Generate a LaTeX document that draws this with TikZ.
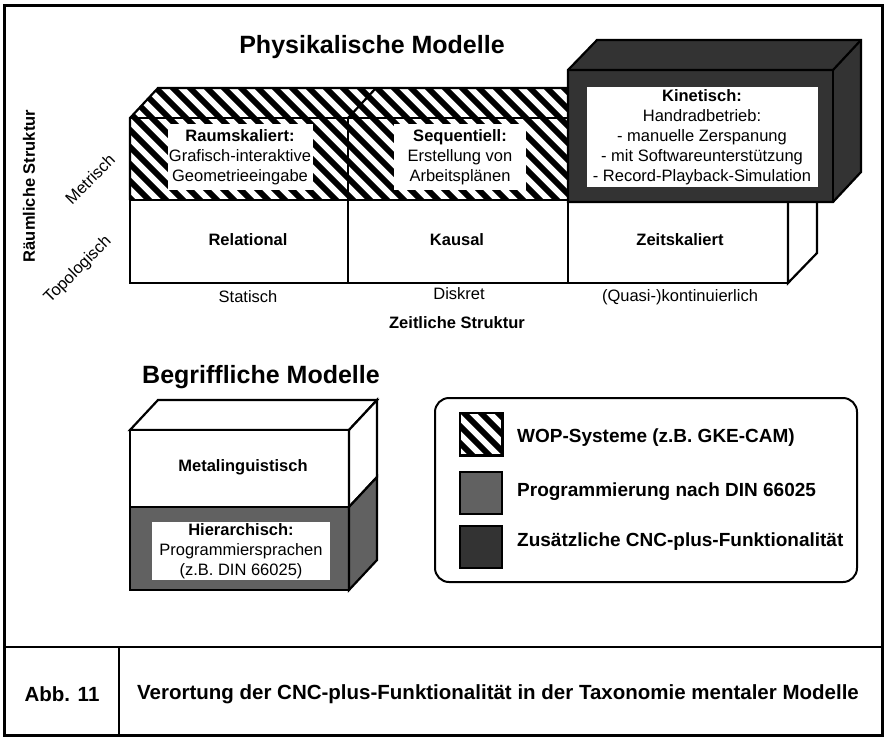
\documentclass[tikz,border=0pt]{standalone}
\usepackage{fontspec}
\setmainfont{Liberation Sans}
\newcommand{\myhatch}[1]{%
  \begin{scope}
    \clip #1;
    \foreach \k in {-12,...,45} \draw[hatchline] (\k*17,0) -- ++(900,900);
  \end{scope}}
\begin{document}
\begin{tikzpicture}[x=1pt,y=-1pt,
  edge/.style={line width=2.2pt, line join=miter},
  hatchline/.style={line width=6pt},
  txt/.style={font=\fontsize{16.5}{20}\selectfont, align=center, inner sep=0pt},
  txtb/.style={font=\fontsize{16.5}{20}\selectfont\bfseries, align=center, inner sep=0pt},
  titlefont/.style={font=\fontsize{25}{30}\selectfont\bfseries, inner sep=0pt},
  legtxt/.style={font=\fontsize{19}{22}\selectfont\bfseries, anchor=west, inner sep=0pt},
  capt/.style={font=\fontsize{20.5}{24}\selectfont\bfseries, inner sep=0pt},
  whitebox/.style={fill=white, inner sep=0pt},
  swatch/.style={draw, line width=1.5pt, minimum width=42, minimum height=42, inner sep=0pt},
  dotA/.style={fill=black!62},
  dotB/.style={fill=black!80},
]
\useasboundingbox (0,0) rectangle (885,737);

% frame
\draw[line width=3pt] (4,5) rectangle (882,735);
\draw[line width=2.5pt] (4,647) -- (882,647);
\draw[line width=2.5pt] (119,647) -- (119,735);

% title
\node[titlefont] (phys) at (372,47) {Physikalische Modelle};

% hatched metric row
\fill[white] (130,118) rectangle (570,200);
\myhatch{(130,118) rectangle (570,200)}
\myhatch{(130,118) -- (158,88) -- (600,88) -- (600,118) -- cycle}
\draw[edge] (130,200) -- (130,118) -- (158,88) -- (570,88);
\draw[edge] (130,118) -- (570,118);
\draw[edge] (348,118) -- (348,200);
\draw[edge] (348,118) -- (376,88);
\node[whitebox, txt, minimum width=145, minimum height=66] (raum) at (240,157)
  {\textbf{Raumskaliert:}\\Grafisch-interaktive\\Geometrieeingabe};
\node[whitebox, txt, minimum width=132, minimum height=66] (seq) at (460,157)
  {\textbf{Sequentiell:}\\Erstellung von\\Arbeitsplänen};

% topological row
\draw[edge, fill=white] (130,200) rectangle (788,283);
\draw[edge, fill=white] (788,283) -- (817,253) -- (817,170) -- (788,200) -- cycle;
\draw[edge] (348,200) -- (348,283);
\draw[edge] (568,200) -- (568,283);
\node[txtb] (rel) at (248,240) {Relational};
\node[txtb] (kaus) at (457,240) {Kausal};
\node[txtb] (zeits) at (680,240) {Zeitskaliert};

% kinetic block
\fill[black!80] (568,70) -- (597,40) -- (861,40) -- (861,172) -- (833,202) -- (568,202) -- cycle;
\draw[edge] (568,202) -- (568,70) -- (597,40) -- (861,40) -- (861,172) -- (833,202) -- cycle;
\draw[edge] (568,70) -- (833,70) -- (861,40);
\draw[edge] (833,70) -- (833,202);
\node[whitebox, txt, minimum width=231, minimum height=100] (kin) at (702,137)
  {\textbf{Kinetisch:}\\Handradbetrieb:\\- manuelle Zerspanung\\- mit Softwareunterstützung\\- Record-Playback-Simulation};

% axis labels
\node[txtb, rotate=90] (raeum) at (29,186) {Räumliche Struktur};
\node[txt, rotate=45] (metr) at (90,179) {Metrisch};
\node[txt, rotate=45] (topo) at (78,270) {Topologisch};
\node[txt] (stat) at (248,297) {Statisch};
\node[txt] (disk) at (459,294) {Diskret};
\node[txt] (quasi) at (680,297) {(Quasi-)kontinuierlich};
\node[txtb] (zeit) at (457,323) {Zeitliche Struktur};

% conceptual models
\node[titlefont] (begr) at (261,377) {Begriffliche Modelle};
\draw[edge, fill=white] (130,430) -- (158,400) -- (377,400) -- (349,430) -- cycle;
\draw[edge, fill=white] (130,430) rectangle (349,507);
\draw[edge, dotA] (130,507) rectangle (349,590);
\draw[edge, fill=white] (349,430) -- (377,400) -- (377,477) -- (349,507) -- cycle;
\draw[edge, dotA] (349,507) -- (377,477) -- (377,560) -- (349,590) -- cycle;
\node[txtb] (meta) at (243,467) {Metalinguistisch};
\node[whitebox, txt, minimum width=178, minimum height=58] (hier) at (241,551)
  {\textbf{Hierarchisch:}\\Programmiersprachen\\(z.B. DIN 66025)};

% legend
\node[draw, line width=2pt, rounded corners=14pt, minimum width=422, minimum height=184, inner sep=0pt] (leg) at (646,490) {};
\node[swatch] (s1) at (481,434) {};
\myhatch{(s1.south west) rectangle (s1.north east)}
\draw[line width=1.5pt] (s1.south west) rectangle (s1.north east);
\node[swatch, dotA] (s2) at (481,493) {};
\node[swatch, dotB] (s3) at (481,547) {};
\node[legtxt] (l1) at (517,438) {WOP-Systeme (z.B. GKE-CAM)};
\node[legtxt] (l2) at (517,492) {Programmierung nach DIN 66025};
\node[legtxt] (l3) at (517,542) {Zusätzliche CNC-plus-Funktionalität};

% caption
\node[capt] (abb) at (62,694) {Abb. 11};
\node[capt] (cap) at (498,694) {Verortung der CNC-plus-Funktionalität in der Taxonomie mentaler Modelle};
\end{tikzpicture}
\end{document}
